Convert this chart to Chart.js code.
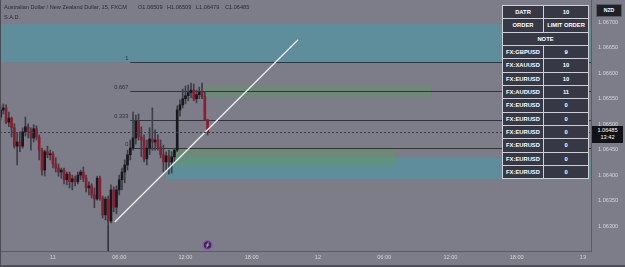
<!DOCTYPE html>
<html>
<head>
<meta charset="utf-8">
<script src="https://cdn.jsdelivr.net/npm/chart.js@4.4.1/dist/chart.umd.min.js"></script>
<style>
  html, body { margin: 0; padding: 0; background: #7c7d88; }
  #wrap { position: relative; width: 625px; height: 267px; overflow: hidden; font-family: 'Liberation Sans', Arial, sans-serif; }
  #c { position: absolute; left: 0; top: 0; }
  .t { position: absolute; top: 4px; font-size: 5.6px; color: #2a2c33; white-space: pre; line-height: 7px; }
  #tbl { position: absolute; left: 502px; top: 5px; display: grid; grid-template-columns: 40px 44px; grid-auto-rows: 12.33px; gap: 1px; padding: 1px; background: #cfcfd4; }
  #tbl div { background: #363945; color: #fff; font-weight: bold; font-size: 5.8px; display: flex; align-items: center; justify-content: center; }
  #tbl div.span { grid-column: span 2; }
  #cur { position: absolute; left: 596px; top: 4px; width: 24px; height: 11px; background: #202126; border: 1px solid #5a5b63; color: #fff; font-weight: bold; font-size: 5.2px; line-height: 11px; text-align: center; }
  #last { position: absolute; left: 592px; top: 126px; width: 31px; height: 16px; background: #111216; color: #fff; font-size: 5.6px; line-height: 7px; padding-top: 1px; text-align: center; }
  #edgeL { position: absolute; left: 0; top: 0; width: 1px; height: 267px; background: #4a4b53; }
  #edgeB { position: absolute; left: 0; top: 265px; width: 625px; height: 2px; background: #4f5058; }
</style>
</head>
<body>
<div id="wrap">
  <canvas id="c" width="625" height="267"></canvas>
  <div class="t" style="left:4px">Australian Dollar / New Zealand Dollar, 15, FXCM</div>
  <div class="t" style="left:138px">O1.06509</div>
  <div class="t" style="left:167px">H1.06509</div>
  <div class="t" style="left:196px">L1.06479</div>
  <div class="t" style="left:225px">C1.06485</div>
  <div class="t" style="left:4px; top:14px">S.A.D.</div>
  <div id="tbl"></div>
  <div id="cur">NZD</div>
  <div id="last">1.06485<br>13:42</div>
  <div id="edgeL"></div>
  <div id="edgeB"></div>
</div>
<script>
// 15 minute candles, hours counted from 11 00:00
const firstBar = -4.75;
const barHours = 0.25;

const opens = [1.06514, 1.06528, 1.06532, 1.06504, 1.06512, 1.06493, 1.06457, 1.06465, 1.06457, 1.06485,
  1.06495, 1.06485, 1.06473, 1.06491, 1.06475, 1.06449, 1.06410, 1.06446, 1.06440, 1.06442,
  1.06422, 1.06414, 1.06406, 1.06410, 1.06391, 1.06402, 1.06387, 1.06393, 1.06387, 1.06400,
  1.06406, 1.06394, 1.06375, 1.06379, 1.06361, 1.06353, 1.06394, 1.06355, 1.06322, 1.06353,
  1.06310, 1.06371, 1.06337, 1.06371, 1.06391, 1.06406, 1.06420, 1.06440, 1.06453, 1.06473,
  1.06506, 1.06475, 1.06469, 1.06432, 1.06453, 1.06471, 1.06465, 1.06469, 1.06455, 1.06440,
  1.06426, 1.06438, 1.06426, 1.06436, 1.06449, 1.06528, 1.06538, 1.06550, 1.06556, 1.06562,
  1.06567, 1.06550, 1.06558, 1.06563, 1.06554, 1.06509];
const highs = [1.06536, 1.06540, 1.06538, 1.06524, 1.06514, 1.06501, 1.06483, 1.06485, 1.06493, 1.06514,
  1.06501, 1.06493, 1.06499, 1.06497, 1.06479, 1.06453, 1.06449, 1.06457, 1.06449, 1.06446,
  1.06434, 1.06422, 1.06414, 1.06414, 1.06406, 1.06406, 1.06400, 1.06398, 1.06406, 1.06410,
  1.06416, 1.06400, 1.06387, 1.06383, 1.06375, 1.06398, 1.06398, 1.06359, 1.06357, 1.06359,
  1.06381, 1.06377, 1.06379, 1.06400, 1.06414, 1.06430, 1.06449, 1.06469, 1.06524, 1.06518,
  1.06520, 1.06495, 1.06479, 1.06469, 1.06493, 1.06532, 1.06489, 1.06479, 1.06469, 1.06459,
  1.06446, 1.06449, 1.06446, 1.06453, 1.06536, 1.06548, 1.06569, 1.06575, 1.06577, 1.06581,
  1.06579, 1.06567, 1.06573, 1.06581, 1.06563, 1.06509];
const lows = [1.06508, 1.06520, 1.06501, 1.06495, 1.06475, 1.06453, 1.06420, 1.06446, 1.06453, 1.06477,
  1.06473, 1.06449, 1.06465, 1.06469, 1.06430, 1.06400, 1.06398, 1.06434, 1.06430, 1.06414,
  1.06406, 1.06398, 1.06394, 1.06383, 1.06381, 1.06375, 1.06371, 1.06379, 1.06383, 1.06391,
  1.06387, 1.06367, 1.06361, 1.06355, 1.06336, 1.06351, 1.06351, 1.06316, 1.06312, 1.06302,
  1.06306, 1.06328, 1.06324, 1.06361, 1.06371, 1.06385, 1.06410, 1.06430, 1.06449, 1.06461,
  1.06469, 1.06436, 1.06426, 1.06420, 1.06440, 1.06449, 1.06449, 1.06449, 1.06434, 1.06406,
  1.06410, 1.06402, 1.06404, 1.06426, 1.06446, 1.06516, 1.06532, 1.06540, 1.06546, 1.06552,
  1.06546, 1.06542, 1.06550, 1.06550, 1.06508, 1.06479];
const closes = [1.06528, 1.06532, 1.06504, 1.06512, 1.06493, 1.06457, 1.06465, 1.06457, 1.06485, 1.06495,
  1.06485, 1.06473, 1.06491, 1.06475, 1.06449, 1.06410, 1.06446, 1.06440, 1.06442, 1.06422,
  1.06414, 1.06406, 1.06410, 1.06391, 1.06402, 1.06387, 1.06393, 1.06387, 1.06400, 1.06406,
  1.06394, 1.06375, 1.06379, 1.06361, 1.06353, 1.06394, 1.06355, 1.06322, 1.06353, 1.06310,
  1.06371, 1.06337, 1.06371, 1.06391, 1.06406, 1.06420, 1.06440, 1.06453, 1.06473, 1.06506,
  1.06475, 1.06469, 1.06432, 1.06453, 1.06471, 1.06465, 1.06469, 1.06455, 1.06440, 1.06426,
  1.06438, 1.06426, 1.06436, 1.06449, 1.06528, 1.06538, 1.06550, 1.06556, 1.06562, 1.06567,
  1.06550, 1.06558, 1.06563, 1.06554, 1.06509, 1.06485];

const lastPrice = 1.06485;

// fib retracement drawing
const fibStart = 7.0;
const fibLow = 1.06453;
const fibHigh = 1.06622;
const fibLevels = [1, 0.667, 0.333, 0];

// trend line and marker line
const trendHours = [5.6, 22.2];
const trendPrices = [1.06308, 1.06666];
const markHour = 5.0;
const markPrice = 1.06302;

// zones (hours, prices)
const zoneStart = [-4.8, 10.25, 10.25, 13.5];
const zoneEnd = [48.73, 48.73, 31.0, 34.25];
const zoneLow = [1.06622, 1.06392, 1.06418, 1.06551];
const zoneHigh = [1.06697, 1.06435, 1.06453, 1.06576];

// axes
const priceTicks = [1.063, 1.0635, 1.064, 1.0645, 1.065, 1.0655, 1.066, 1.0665, 1.067];
const timeTickHours = [0, 6, 12, 18, 24, 30, 36, 42, 48];
const timeTickLabels = ['11', '06:00', '12:00', '18:00', '12', '06:00', '12:00', '18:00', '13'];

// table
const tableHead = [['DATR', '10'], ['ORDER', 'LIMIT ORDER']];
const notePairs = ['FX:GBPUSD', 'FX:XAUUSD', 'FX:EURUSD', 'FX:AUDUSD', 'FX:EURUSD', 'FX:EURUSD', 'FX:EURUSD', 'FX:EURUSD', 'FX:EURUSD', 'FX:EURUSD'];
const noteValues = [9, 10, 10, 11, 0, 0, 0, 0, 0, 0];

// styles
const upColor = '#17181d';
const downColor = '#8c1d2b';
const wickColor = '#3d3e46';
const labelColor = '#d2d3d9';
const zoneColors = ['rgba(64,160,175,0.5)', 'rgba(64,160,175,0.5)', 'rgba(95,152,100,0.45)', 'rgba(95,152,100,0.45)'];
const fontFamily = "'Liberation Sans', Arial, sans-serif";

const tbl = document.getElementById('tbl');
function cell(text, cls) {
    const d = document.createElement('div');
    d.textContent = text;
    if (cls) d.className = cls;
    tbl.appendChild(d);
}
tableHead.forEach(r => { cell(r[0]); cell(r[1]); });
cell('NOTE', 'span');
notePairs.forEach((p, i) => { cell(p); cell(String(noteValues[i])); });

const hours = opens.map((_, i) => firstBar + i * barHours);
const candleColors = opens.map((o, i) => closes[i] >= o ? upColor : downColor);

const overlay = {
    id: 'overlay',
    beforeDatasetsDraw(chart) {
        const {ctx, chartArea: a, scales: {x, y}} = chart;
        ctx.save();
        ctx.beginPath();
        ctx.rect(a.left, a.top, a.width, a.height);
        ctx.clip();
        zoneStart.forEach((s, i) => {
            const x0 = x.getPixelForValue(s), x1 = x.getPixelForValue(zoneEnd[i]);
            const y0 = y.getPixelForValue(zoneHigh[i]), y1 = y.getPixelForValue(zoneLow[i]);
            ctx.fillStyle = zoneColors[i];
            ctx.fillRect(x0, y0, x1 - x0, y1 - y0);
        });
        const fx = x.getPixelForValue(fibStart);
        ctx.strokeStyle = '#33343b';
        ctx.lineWidth = 1;
        ctx.fillStyle = '#2c2e35';
        ctx.font = '5.6px ' + fontFamily;
        ctx.textAlign = 'right';
        ctx.textBaseline = 'bottom';
        fibLevels.forEach(lv => {
            const py = Math.round(y.getPixelForValue(fibLow + (fibHigh - fibLow) * lv)) + 0.5;
            ctx.beginPath();
            ctx.moveTo(fx, py);
            ctx.lineTo(a.right, py);
            ctx.stroke();
            ctx.fillText(String(lv), fx - 2, py - 1.5);
        });
        ctx.restore();
    },
    afterDatasetsDraw(chart) {
        const {ctx, chartArea: a, scales: {x, y}} = chart;
        ctx.save();
        // last price line
        const py = Math.round(y.getPixelForValue(lastPrice)) + 0.5;
        ctx.strokeStyle = '#3a3b42';
        ctx.setLineDash([2, 2]);
        ctx.beginPath();
        ctx.moveTo(a.left, py);
        ctx.lineTo(a.right, py);
        ctx.stroke();
        ctx.setLineDash([]);
        // event marker
        const cx = x.getPixelForValue(hours[hours.length - 1]), cy = a.bottom - 6;
        ctx.beginPath();
        ctx.arc(cx, cy, 4.5, 0, Math.PI * 2);
        ctx.fillStyle = '#3b2d4a';
        ctx.fill();
        ctx.lineWidth = 1.5;
        ctx.strokeStyle = '#9c4fc4';
        ctx.stroke();
        ctx.beginPath();
        ctx.moveTo(cx + 1.2, cy - 2.5);
        ctx.lineTo(cx - 1, cy + 0.3);
        ctx.lineTo(cx + 1, cy - 0.3);
        ctx.lineTo(cx - 1.2, cy + 2.5);
        ctx.lineWidth = 0.8;
        ctx.strokeStyle = '#d9c8e6';
        ctx.stroke();
        // price axis labels from the scale's ticks
        ctx.fillStyle = labelColor;
        ctx.font = '5.6px ' + fontFamily;
        ctx.textAlign = 'left';
        ctx.textBaseline = 'middle';
        y.ticks.forEach(t => {
            ctx.fillText(t.value.toFixed(5), y.left + 7, y.getPixelForValue(t.value));
        });
        ctx.restore();
    }
};

new Chart(document.getElementById('c'), {
    type: 'bar',
    data: {
        datasets: [
            {
                type: 'line',
                data: trendHours.map((h, i) => ({x: h, y: trendPrices[i]})),
                borderColor: '#f2f2f4',
                borderWidth: 1.2,
                pointRadius: 0,
                order: 0
            },
            {
                type: 'line',
                data: [{x: markHour, y: markPrice}, {x: markHour, y: 1.0625}],
                borderColor: '#34353c',
                borderWidth: 1,
                pointRadius: 0,
                order: 3
            },
            {
                data: hours.map((h, i) => ({x: h, y: [opens[i], closes[i]]})),
                backgroundColor: candleColors,
                barThickness: 2,
                grouped: false,
                order: 1
            },
            {
                data: hours.map((h, i) => ({x: h, y: [lows[i], highs[i]]})),
                backgroundColor: wickColor,
                barThickness: 1,
                grouped: false,
                order: 2
            }
        ]
    },
    options: {
        responsive: false,
        animation: false,
        events: [],
        layout: { padding: 0 },
        plugins: { legend: { display: false }, tooltip: { enabled: false } },
        scales: {
            x: {
                type: 'linear',
                min: -4.8,
                max: 48.73,
                offset: false,
                grid: { display: false, drawTicks: false },
                border: { display: true, color: '#5a5b63' },
                afterBuildTicks: s => { s.ticks = timeTickHours.map(v => ({value: v})); },
                afterFit: s => { s.height = 16; },
                ticks: {
                    autoSkip: false,
                    maxRotation: 0,
                    padding: 3,
                    color: labelColor,
                    font: { size: 5.6, family: fontFamily },
                    callback: v => timeTickLabels[timeTickHours.indexOf(v)]
                }
            },
            y: {
                type: 'linear',
                position: 'right',
                min: 1.06251,
                max: 1.06744,
                grid: { display: false, drawTicks: false },
                border: { display: true, color: '#5a5b63' },
                afterBuildTicks: s => { s.ticks = priceTicks.map(v => ({value: v})); },
                afterFit: s => { s.width = 34; },
                ticks: { display: false }
            }
        }
    },
    plugins: [overlay]
});
</script>
</body>
</html>
